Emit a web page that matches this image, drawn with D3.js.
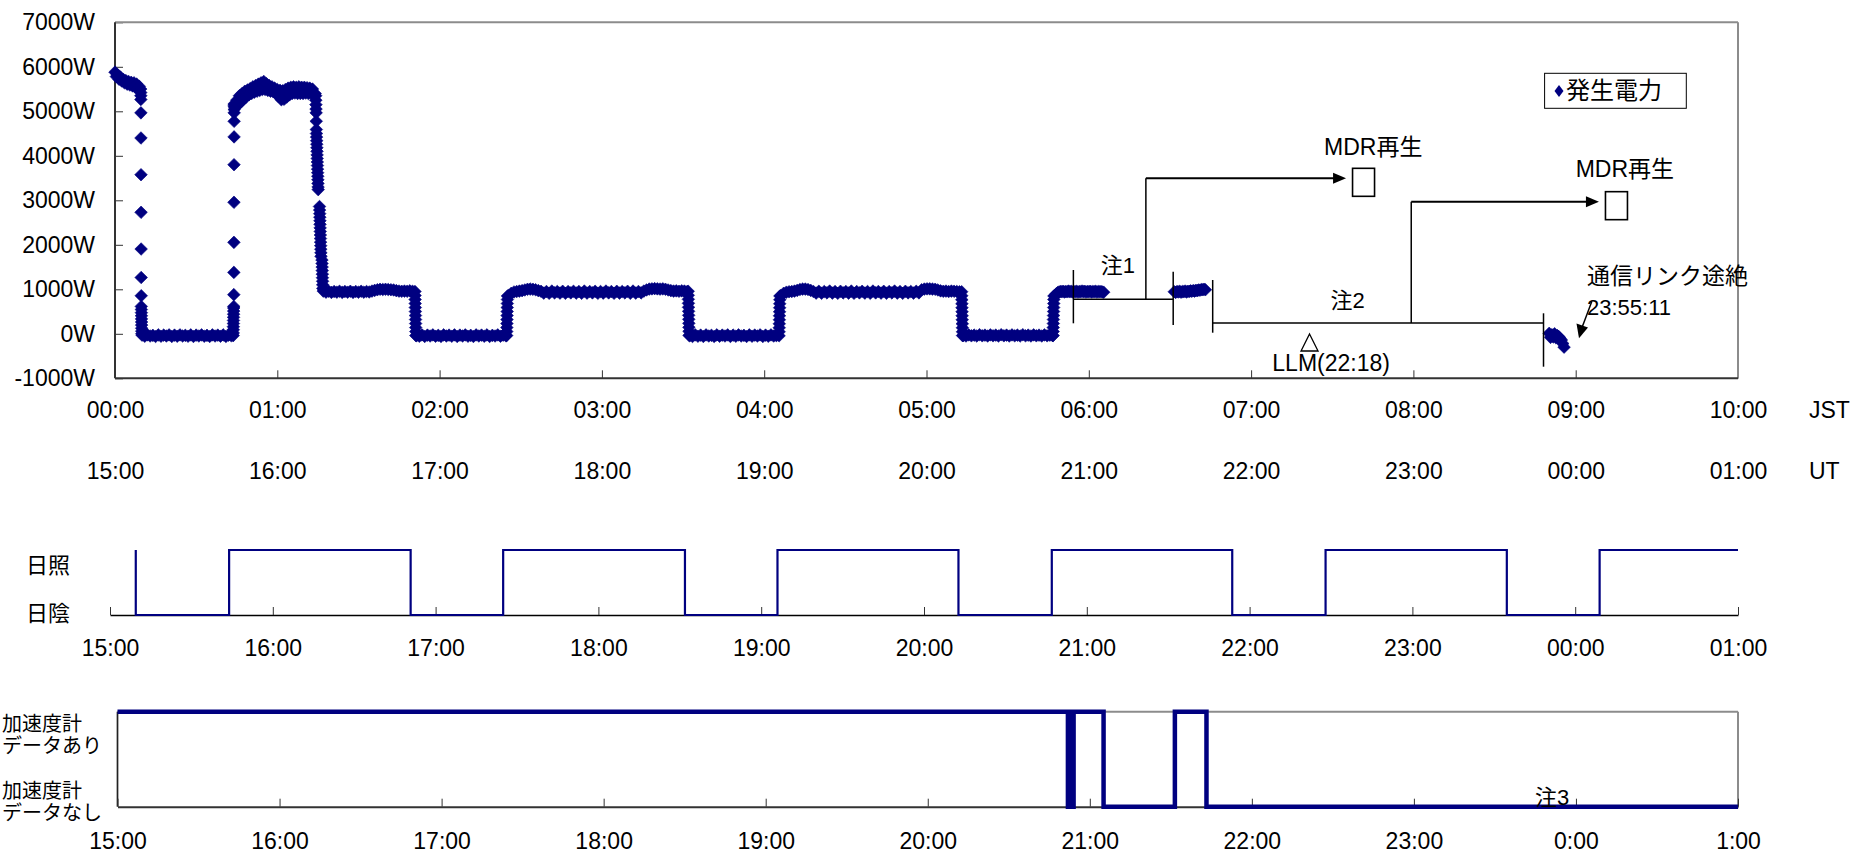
<!DOCTYPE html>
<html>
<head>
<meta charset="utf-8">
<script src="https://cdn.jsdelivr.net/npm/d3@7"></script>
<style>
body { margin: 0; background: #fff; }
text { font-family: "Liberation Sans", Arial, "Noto Sans CJK JP", sans-serif; fill: #000; }
</style>
</head>
<body>
<div id="chart"></div>
<script>
// time axis ticks (minutes from the left edge) and their labels
var hourTicks = [0, 60, 120, 180, 240, 300, 360, 420, 480, 540, 600];
var jstLabels = ["00:00","01:00","02:00","03:00","04:00","05:00","06:00","07:00","08:00","09:00","10:00"];
var utLabels  = ["15:00","16:00","17:00","18:00","19:00","20:00","21:00","22:00","23:00","00:00","01:00"];
var sunLabels = ["15:00","16:00","17:00","18:00","19:00","20:00","21:00","22:00","23:00","00:00","01:00"];
var accLabels = ["15:00","16:00","17:00","18:00","19:00","20:00","21:00","22:00","23:00","0:00","1:00"];
var powerTicks = [-1000, 0, 1000, 2000, 3000, 4000, 5000, 6000, 7000];

// generated power (W); each run: start minute (JST), step in minutes
var pSun1 = [5880,5780,5820,5720,5770,5680,5720,5640,5690,5610,5670,5590,5650,5570,5640,5540,5610,5520,5560];
var pDrop1 = [5500,5420,5350,5265,4965,4400,3575,2730,1905,1265,855,615,545,475,405,335,265,195,125,60,0];
var pEcl1 = [-30,-55,-25,-50,-35,-60,-25,-55,-30,-50,-25,-60,-30,-55,-25,-50,-35,-55,-25,-60,-30,-50,-25,-55,-35,-60,-25,-50,-30,-55,-25,-60,-30,-45];
var pRise1 = [-40,20,90,160,230,300,370,440,510,580,615,880,1380,2055,2955,3800,4425,4775,4965,5040,5100,5170];
var pSun2 = [5140,5100,5250,5150,5350,5200,5400,5270,5450,5320,5480,5370,5510,5400,5550,5430,5580,5450,5610,5470,
             5640,5490,5670,5490,5620,5470,5580,5450,5550,5440,5520,5400,5490,5330,5470,5260,5460,5270,5490,5320,
             5520,5370,5540,5400,5550,5410,5540,5400,5550,5400,5540,5400,5540,5410,5530,5400,5520,5400,5500,5380,5400];
var pDrop2a = [5350,5250,5150,5050,4965,4777,4590,4500,4420,4340,4260,4180,4100,4020,3940,3860,3780,3700,3620,3540,3460,3380,3300,3240];
var pDrop2b = [2860,2780,2700,2620,2540,2460,2380,2300,2220,2140,2060,1980,1900,1820,1740];
var pDrop2c = [1660,1580,1500,1420,1340,1260,1180,1100,1020];
var pPlat2 = [960,935,955,930,950,935,955,930,950,935,955,930,950,935,955,935,950,940,960,975,
              990,1000,995,1000,995,990,985,970,960,955,960,955,965,955];
var pDrop3 = [950,860,770,680,590,500,410,320,230,140,50,-40];
var pEcl2 = [-40,-55,-25,-60,-30,-50,-25,-55,-35,-60,-25,-50,-30,-55,-25,-60,-30,-50,-25,-55,-35,-60,-25,-50,-30,-55,-25,-60,-35,-50,-25,-55,-30,-45];
var pRise2 = [-40,50,140,230,320,410,500,590,680,770,850];
var pPlat3 = [860,910,940,950,960,970,985,1000,1005,1000,990,970,
              955,915,950,910,960,920,950,915,955,910,950,920,955,915,950,910,960,915,950,920,
              955,910,950,915,960,920,950,910,955,915,950,920,955,910,960,915,950,920,960,
              985,1005,1010,1015,1010,1005,1010,1000,985,
              970,960,965,955,965,960,950];
var pDrop4 = [955,865,775,685,595,505,415,325,235,145,55,-35];
var pEcl3 = [-45,-60,-25,-55,-30,-60,-25,-50,-35,-60,-25,-55,-30,-50,-25,-60,-30,-55,-25,-50,-35,-60,-25,-55,-30,-50,-25,-60,-30,-55,-25,-50,-40];
var pRise3 = [-45,45,135,225,315,405,495,585,675,765,850];
var pPlat4 = [860,910,935,945,950,960,975,995,1005,1005,995,975,
              950,915,955,910,950,920,960,915,950,910,955,920,950,915,960,910,950,920,955,915,
              950,910,960,920,950,915,955,910,950,920,960,915,950,910,955,920,950,915,955,920,
              990,1005,1010,1010,1005,1000,985,
              965,955,960,950,960,955,950,945];
var pDrop5 = [945,855,765,675,585,495,405,315,225,135,45,-40];
var pEcl4 = [-40,-50,-25,-45,-30,-50,-20,-45,-30,-50,-25,-45,-30,-50,-20,-45,-30,-50,-25,-45,-30,-50,-20,-45,-30,-50,-25,-45,-30,-50,-25,-45,-30,-40];
var pRise4 = [-40,50,140,230,320,410,500,590,680,770,850];
var pFrag1 = [860,900,925,940,950,945,955,940,950,945,960,945,955,940,950,945,955,940,950,945,
              960,945,955,940,950,945,955,940,950,945,955,940,950,945,950,940,935];
var pFrag2 = [945,930,950,940,955,935,950,945,960,940,955,950,965,955,970,960,975,970,985,980,995,990,1000,990];
var pLast = [10,-80,-20,-70,0,-90,-40,-60,-100,-140,-220,-300];

var powerRuns = [
  { start: 0, step: 0.5, values: pSun1 },
  { start: 9.5, step: 0.02, values: pDrop1 },
  { start: 10, step: 1, values: pEcl1 },
  { start: 43.7, step: 0.02, values: pRise1 },
  { start: 44, step: 0.5, values: pSun2 },
  { start: 74.2, step: 0.04, values: pDrop2a },
  { start: 75.6, step: 0.04, values: pDrop2b },
  { start: 76.5, step: 0.04, values: pDrop2c },
  { start: 77, step: 1, values: pPlat2 },
  { start: 110.9, step: 0.03, values: pDrop3 },
  { start: 111.5, step: 1, values: pEcl2 },
  { start: 144.8, step: 0.03, values: pRise2 },
  { start: 145.5, step: 1, values: pPlat3 },
  { start: 211.9, step: 0.03, values: pDrop4 },
  { start: 212.5, step: 1, values: pEcl3 },
  { start: 245.5, step: 0.03, values: pRise3 },
  { start: 246.2, step: 1, values: pPlat4 },
  { start: 313.0, step: 0.03, values: pDrop5 },
  { start: 313.6, step: 1, values: pEcl4 },
  { start: 346.8, step: 0.03, values: pRise4 },
  { start: 347.5, step: 0.5, values: pFrag1 },
  { start: 391.6, step: 0.5, values: pFrag2 },
  { start: 530.2, step: 0.5, values: pLast }
];

// sunlight (1) / shadow (0), minutes from 15:00 UT
var sunTimes  = [9.5, 9.5, 43.9, 110.8, 144.9, 211.9, 246.0, 312.7, 347.1, 413.6, 448.0, 514.8, 549.0, 600];
var sunStates = [1,   0,   1,    0,     1,     0,     1,     0,     1,     0,     1,     0,     1,     1];

// accelerometer data present (1) / absent (0), minutes from 15:00 UT
var accTimes  = [0, 351.9, 352.6, 353.3, 354.0, 365.1, 391.5, 403.2, 600];
var accStates = [1, 0,     1,     0,     1,     0,     1,     0,     0];

// annotation anchors (minutes JST, W)
var note1Marks = [354.3, 391.2];
var note2Marks = [405.8, 528.1];
var mdrFrom = [381.1, 479.2];
var mdrTo = [455.1, 548.6];
var llmTime = 441.6;

var svgWidth = 1854;
var svgHeight = 855;
var navy = "#000080";

var svg = d3.select("#chart")
    .append("svg")
    .attr("width", svgWidth)
    .attr("height", svgHeight);

var x = d3.scaleLinear().domain([0, 600]).range([115, 1738]);
var y = d3.scaleLinear().domain([-1000, 7000]).range([378.3, 22.3]);
var xSun = d3.scaleLinear().domain([0, 600]).range([110, 1738]);
var ySun = d3.scaleLinear().domain([0, 1]).range([615, 550]);
var xAcc = d3.scaleLinear().domain([0, 600]).range([117.5, 1738]);
var yAcc = d3.scaleLinear().domain([0, 1]).range([806.7, 711.7]);

function styleAxis(g, size) {
    g.attr("font-family", null).attr("font-size", null);
    g.selectAll("text").style("font-size", size + "px");
    g.selectAll(".tick line").attr("stroke", "#333");
}

// ---------- power chart ----------
var powerAxisX = d3.axisBottom(x).tickValues(hourTicks)
    .tickFormat(function(d, i) { return jstLabels[i]; })
    .tickSizeInner(-8).tickSizeOuter(0).tickPadding(23);
var gx = svg.append("g").attr("transform", "translate(0,378.3)").call(powerAxisX);
gx.select(".domain").remove();
styleAxis(gx, 23);

var utAxis = d3.axisBottom(x).tickValues(hourTicks)
    .tickFormat(function(d, i) { return utLabels[i]; })
    .tickSize(0).tickPadding(84);
var gu = svg.append("g").attr("transform", "translate(0,378.3)").call(utAxis);
gu.select(".domain").remove();
styleAxis(gu, 23);

var powerAxisY = d3.axisLeft(y).tickValues(powerTicks)
    .tickFormat(function(d) { return d + "W"; })
    .tickSizeInner(-8).tickSizeOuter(0).tickPadding(20);
var gy = svg.append("g").attr("transform", "translate(115,0)").call(powerAxisY);
gy.select(".domain").remove();
styleAxis(gy, 23);

// plot frame
svg.append("line").attr("x1", 115).attr("x2", 1738).attr("y1", 22.3).attr("y2", 22.3).attr("stroke", "#8c8c8c").attr("stroke-width", 2);
svg.append("line").attr("x1", 1738).attr("x2", 1738).attr("y1", 22.3).attr("y2", 378.3).attr("stroke", "#8c8c8c").attr("stroke-width", 2);
svg.append("line").attr("x1", 115).attr("x2", 115).attr("y1", 22.3).attr("y2", 378.3).attr("stroke", "#333").attr("stroke-width", 2);
svg.append("line").attr("x1", 115).attr("x2", 1738).attr("y1", 378.3).attr("y2", 378.3).attr("stroke", "#333").attr("stroke-width", 2);

svg.append("text").attr("x", 1809).attr("y", 418).style("font-size", "23px").text("JST");
svg.append("text").attr("x", 1809).attr("y", 479).style("font-size", "23px").text("UT");

var powerPoints = powerRuns.flatMap(function(run) {
    return run.values.map(function(v, i) { return { t: run.start + i * run.step, w: v }; });
});

var diamond = "M0,-6.3L6.3,0L0,6.3L-6.3,0Z";
svg.append("g").selectAll("path")
    .data(powerPoints)
    .enter()
    .append("path")
    .attr("d", diamond)
    .attr("transform", function(d) { return "translate(" + x(d.t) + "," + y(d.w) + ")"; })
    .attr("fill", navy)
    .attr("stroke", navy)
    .attr("stroke-width", 0.6);

// legend
svg.append("rect").attr("x", 1544.6).attr("y", 73.3).attr("width", 141.7).attr("height", 35)
    .attr("fill", "#fff").attr("stroke", "#000").attr("stroke-width", 1);
svg.append("path").attr("d", "M0,-6L4.5,0L0,6L-4.5,0Z").attr("transform", "translate(1559,91)").attr("fill", navy);
svg.append("text").attr("x", 1566).attr("y", 99).style("font-size", "24px").text("発生電力");

// annotations
var ann = svg.append("g").attr("stroke", "#000").attr("fill", "none");
// note 1 bracket
ann.append("line").attr("x1", x(note1Marks[0])).attr("x2", x(note1Marks[0])).attr("y1", 270).attr("y2", 323.3).attr("stroke-width", 1.5);
ann.append("line").attr("x1", x(note1Marks[1])).attr("x2", x(note1Marks[1])).attr("y1", 271.7).attr("y2", 325).attr("stroke-width", 1.5);
ann.append("line").attr("x1", x(note1Marks[0])).attr("x2", x(note1Marks[1])).attr("y1", y(775)).attr("y2", y(775)).attr("stroke-width", 1.5);
// note 2 bracket
ann.append("line").attr("x1", x(note2Marks[0])).attr("x2", x(note2Marks[0])).attr("y1", 280).attr("y2", 332.7).attr("stroke-width", 1.5);
ann.append("line").attr("x1", x(note2Marks[1])).attr("x2", x(note2Marks[1])).attr("y1", 313.3).attr("y2", 366.7).attr("stroke-width", 1.5);
ann.append("line").attr("x1", x(note2Marks[0])).attr("x2", x(note2Marks[1])).attr("y1", y(245)).attr("y2", y(245)).attr("stroke-width", 1.5);

// MDR playback arrows
var mdrBase = [775, 245];
var mdrLevel = [3494, 2969];
mdrFrom.forEach(function(t, i) {
    var xa = x(t), xb = x(mdrTo[i]), ya = y(mdrLevel[i]);
    ann.append("line").attr("x1", xa).attr("x2", xa).attr("y1", y(mdrBase[i])).attr("y2", ya).attr("stroke-width", 1.5);
    ann.append("line").attr("x1", xa).attr("x2", xb - 12).attr("y1", ya).attr("y2", ya).attr("stroke-width", 2);
    ann.append("path").attr("d", "M" + xb + "," + ya + "L" + (xb - 13) + "," + (ya - 5.5) + "L" + (xb - 13) + "," + (ya + 5.5) + "Z")
        .attr("fill", "#000").attr("stroke", "none");
    ann.append("rect").attr("x", xb + 6.5).attr("y", ya - 10).attr("width", 22).attr("height", 28).attr("stroke-width", 1.6);
});

// pointer to the link loss
ann.append("line").attr("x1", 1591.7).attr("y1", 301.7).attr("x2", 1582.2).attr("y2", 327).attr("stroke-width", 1.5);
ann.append("path").attr("d", "M1579,338.3L1576.5,323.5L1588,327.5Z").attr("fill", "#000").attr("stroke", "none");

// LLM triangle
var xt = x(llmTime);
ann.append("path").attr("d", "M" + xt + ",334L" + (xt + 8.5) + ",351L" + (xt - 8.5) + ",351Z").attr("stroke-width", 1.3);

svg.append("text").attr("x", 1100.8).attr("y", 273).style("font-size", "22px").text("注1");
svg.append("text").attr("x", 1330.6).attr("y", 308).style("font-size", "22px").text("注2");
svg.append("text").attr("x", 1324).attr("y", 155).style("font-size", "23px").text("MDR再生");
svg.append("text").attr("x", 1575.7).attr("y", 177.3).style("font-size", "23px").text("MDR再生");
svg.append("text").attr("x", 1587).attr("y", 284).style("font-size", "23px").text("通信リンク途絶");
svg.append("text").attr("x", 1587).attr("y", 315).style("font-size", "22px").text("23:55:11");
svg.append("text").attr("x", 1272.3).attr("y", 371).style("font-size", "23px").text("LLM(22:18)");

// ---------- sunlight chart ----------
var sunAxis = d3.axisBottom(xSun).tickValues(hourTicks)
    .tickFormat(function(d, i) { return sunLabels[i]; })
    .tickSizeInner(-8).tickSizeOuter(0).tickPadding(25);
var gs = svg.append("g").attr("transform", "translate(0,615)").call(sunAxis);
gs.select(".domain").attr("stroke", "#000").attr("stroke-width", 1.5);
styleAxis(gs, 23);

var sunData = sunTimes.map(function(t, i) { return { t: t, s: sunStates[i] }; });
var sunLine = d3.line().x(function(d) { return xSun(d.t); }).y(function(d) { return ySun(d.s); }).curve(d3.curveStepAfter);
svg.append("path").datum(sunData).attr("d", sunLine).attr("fill", "none").attr("stroke", navy).attr("stroke-width", 2.2);

svg.append("text").attr("x", 48).attr("y", 573).attr("text-anchor", "middle").style("font-size", "22px").text("日照");
svg.append("text").attr("x", 48).attr("y", 621).attr("text-anchor", "middle").style("font-size", "22px").text("日陰");

// ---------- accelerometer chart ----------
svg.append("line").attr("x1", 117.5).attr("x2", 1738).attr("y1", 711.7).attr("y2", 711.7).attr("stroke", "#8c8c8c").attr("stroke-width", 2);
svg.append("line").attr("x1", 1738).attr("x2", 1738).attr("y1", 711.7).attr("y2", 806.7).attr("stroke", "#8c8c8c").attr("stroke-width", 2);
svg.append("line").attr("x1", 117.5).attr("x2", 117.5).attr("y1", 711.7).attr("y2", 806.7).attr("stroke", "#222").attr("stroke-width", 1.7);

var accAxis = d3.axisBottom(xAcc).tickValues(hourTicks)
    .tickFormat(function(d, i) { return accLabels[i]; })
    .tickSizeInner(-8).tickSizeOuter(0).tickPadding(26);
var ga = svg.append("g").attr("transform", "translate(0,806.7)").call(accAxis);
ga.select(".domain").attr("stroke", "#333").attr("stroke-width", 2);
styleAxis(ga, 23);

var accData = accTimes.map(function(t, i) { return { t: t, s: accStates[i] }; });
var accLine = d3.line().x(function(d) { return xAcc(d.t); }).y(function(d) { return yAcc(d.s); }).curve(d3.curveStepAfter);
svg.append("path").datum(accData).attr("d", accLine).attr("fill", "none").attr("stroke", navy).attr("stroke-width", 4.5);

svg.append("text").attr("x", 1535).attr("y", 805).style("font-size", "22px").text("注3");

var accLabelLines = [["加速度計", 731], ["データあり", 753], ["加速度計", 798], ["データなし", 820]];
accLabelLines.forEach(function(l) {
    svg.append("text").attr("x", 2).attr("y", l[1]).style("font-size", "20px").text(l[0]);
});
</script>
</body>
</html>
